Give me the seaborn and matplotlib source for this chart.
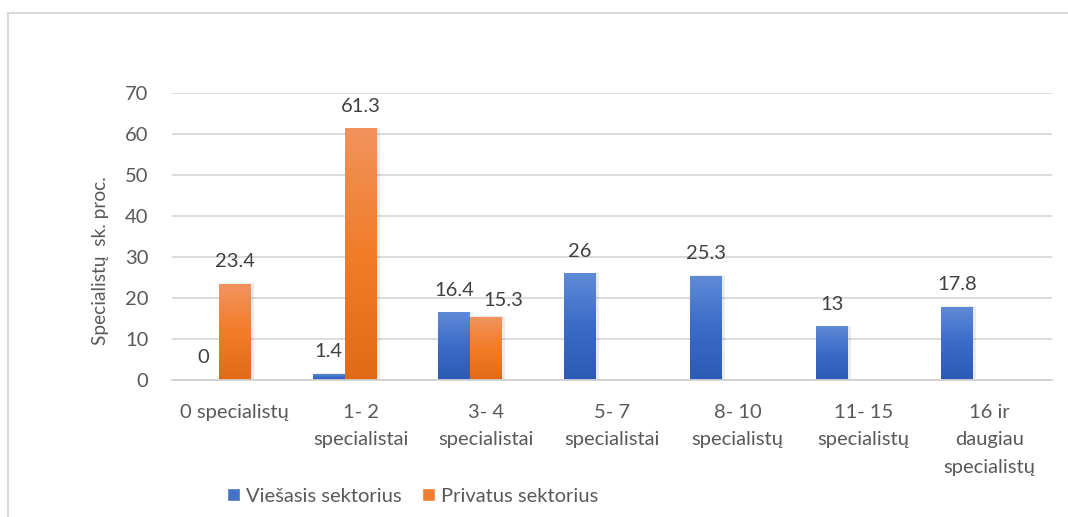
import numpy as np
import pandas as pd
import matplotlib
matplotlib.use("Agg")
import matplotlib.pyplot as plt
import seaborn as sns
from matplotlib.colors import LinearSegmentedColormap, to_hex
from matplotlib.patches import Rectangle, Patch

categories = ["0 specialistų", "1- 2\nspecialistai", "3- 4\nspecialistai",
              "5- 7\nspecialistai", "8- 10\nspecialistų", "11- 15\nspecialistų",
              "16 ir\ndaugiau\nspecialistų"]
series = ["Viešasis sektorius", "Privatus sektorius"]
empty_series = "(tuščia serija)"   # empty third series slot present in the original chart
viesasis = [0, 1.4, 16.4, 26, 25.3, 13, 17.8]
privatus = [23.4, 61.3, 15.3, np.nan, np.nan, np.nan, np.nan]
yticks = [0, 10, 20, 30, 40, 50, 60, 70]
ylabel = "Specialistų  sk. proc."

df = pd.DataFrame({
    "cat": categories * 2,
    "val": viesasis + privatus,
    "series": [series[0]] * len(categories) + [series[1]] * len(categories),
})

sns.set_theme(style="white")
plt.rcParams["font.family"] = ["Lato", "DejaVu Sans"]
txt = "#595959"
FS = 14.5

fig = plt.figure(figsize=(10.68, 5.17), dpi=100)
ax = fig.add_axes([0.161, 0.265, 0.824, 0.555])

blue_c, orange_c, gray_c = "#4472c4", "#ed7d31", "#a5a5a5"
sns.barplot(data=df, x="cat", y="val", hue="series",
            hue_order=series + [empty_series], saturation=1,
            palette=[blue_c, orange_c, gray_c], width=0.76, ax=ax, legend=False,
            errorbar=None, order=categories)

cmaps = {
    blue_c: LinearSegmentedColormap.from_list("b", ["#2C5BB5", "#3A6BC8", "#5F8AD6"]),
    orange_c: LinearSegmentedColormap.from_list("o", ["#E06A17", "#F27C28", "#F1935E"]),
}
grad = np.linspace(0, 1, 256).reshape(-1, 1)
label_texts = {}
for cont in ax.containers:
    if len(cont.patches) == 0:
        continue
    col = to_hex(cont.patches[0].get_facecolor()[:3])
    if col not in cmaps:
        continue
    for p in cont.patches:
        h = p.get_height()
        if not np.isfinite(h) or h <= 0:
            continue
        x0, w = p.get_x(), p.get_width()
        ax.add_patch(Rectangle((x0 + 0.025, 0), w, h + 0.2, color="#000000",
                               alpha=0.08, zorder=1.5, lw=0))
        ax.imshow(grad, extent=[x0, x0 + w, 0, h], origin="lower", aspect="auto",
                  cmap=cmaps[col], zorder=2, interpolation="bilinear")
        p.set_alpha(0)
    texts = ax.bar_label(cont, labels=[("" if not np.isfinite(v) else f"{v:g}")
                                       for v in cont.datavalues],
                         padding=10, fontsize=FS, color="#404040")
    label_texts[col] = (cont, texts)

# nudge the orange label right where both labels sit at similar heights (as in the original)
if blue_c in label_texts and orange_c in label_texts:
    bcont, btexts = label_texts[blue_c]
    ocont, otexts = label_texts[orange_c]
    bx = {round(p.get_x() + p.get_width(), 3): v for p, v in zip(bcont.patches, bcont.datavalues)}
    for p, v, t in zip(ocont.patches, ocont.datavalues, otexts):
        key = round(p.get_x(), 3)
        if np.isfinite(v) and key in bx and abs(bx[key] - v) < 5:
            t.set_position((12, t.get_position()[1] - 4))

ax.set_xlim(-0.5, len(categories) - 0.5)
ax.set_ylim(0, 70)
ax.set_yticks(yticks)
ax.yaxis.grid(True, color="#d9d9d9", lw=1.3)
ax.set_axisbelow(True)
for s in ["top", "right", "left"]:
    ax.spines[s].set_visible(False)
ax.spines["bottom"].set_color("#d0d0d0")
ax.spines["bottom"].set_linewidth(1.3)
ax.tick_params(axis="both", length=0, labelsize=FS, labelcolor=txt)
ax.tick_params(axis="y", pad=17)
ax.tick_params(axis="x", pad=17)
ax.set_xticks(range(len(categories)))
ax.set_xticklabels(categories, linespacing=1.75, va="top")
ax.set_xlabel("")
ax.set_ylabel(ylabel, fontsize=13.8, color=txt)
ax.yaxis.set_label_coords(-0.071, 0.415)

handles = [Patch(facecolor=blue_c), Patch(facecolor=orange_c)]
fig.legend(handles, series, loc="center", bbox_to_anchor=(0.386, 0.04), ncol=2,
           frameon=False, fontsize=FS, labelcolor=txt, handlelength=0.65,
           handleheight=0.65, handletextpad=0.3, columnspacing=1.0)

fig.add_artist(Rectangle((8 / 1068, -0.1), 1.2, 0.975 + 0.1, transform=fig.transFigure,
                         fill=False, edgecolor="#d9d9d9", lw=1.5))

fig.savefig("out.png", dpi=100)
